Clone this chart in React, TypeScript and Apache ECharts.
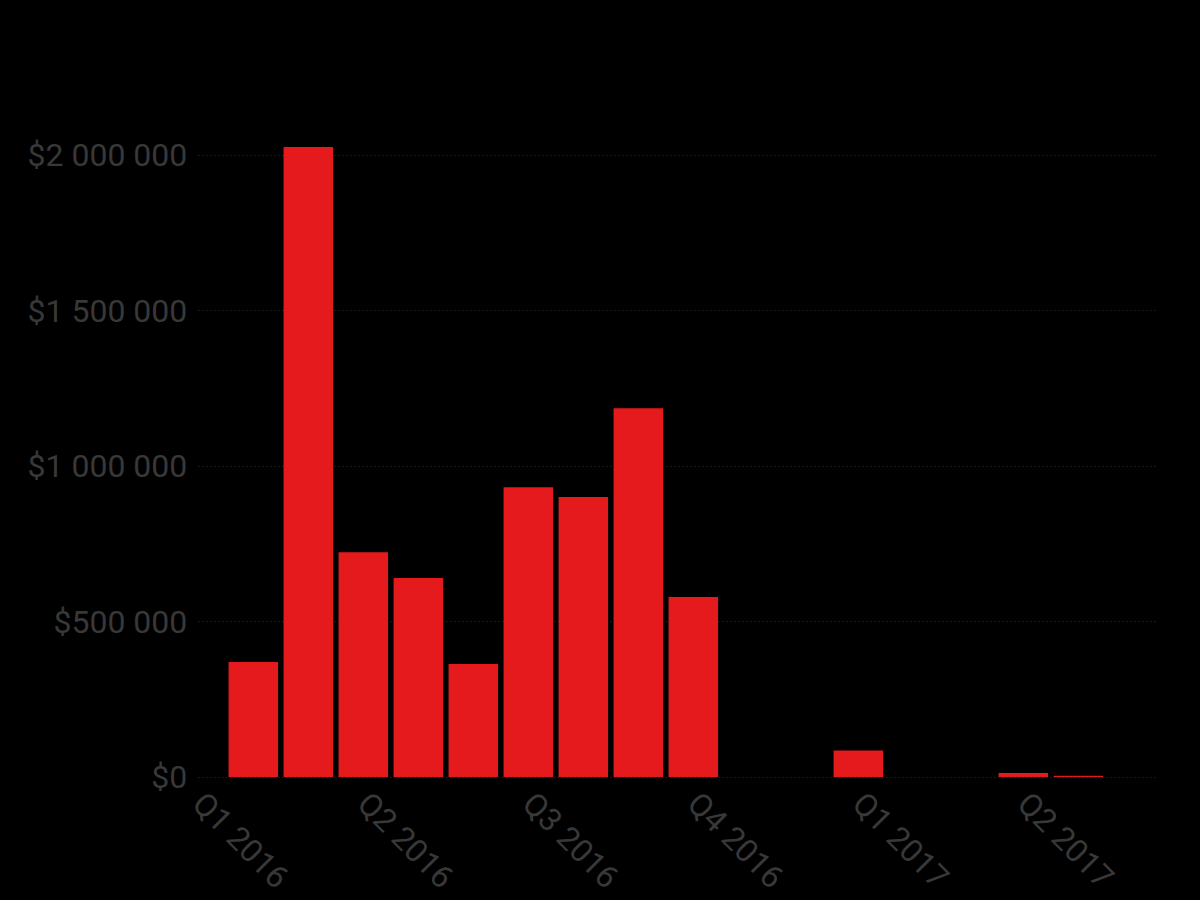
import React, { useEffect, useRef } from "react";
import * as echarts from "echarts";

// month index: 0 = Jan 2016
const monthIndex = [1, 2, 3, 4, 5, 6, 7, 8, 9, 12, 15, 16];
const amounts = [370000, 2026000, 723000, 640000, 363000, 932000, 900000, 1186000, 579000, 85000, 13000, 4000];
const quarterLabels = ["Q1 2016", "Q2 2016", "Q3 2016", "Q4 2016", "Q1 2017", "Q2 2017"];
const yTicks = [0, 500000, 1000000, 1500000, 2000000];

function fmtMoney(v: number): string {
  const s = Math.round(v).toString().replace(/\B(?=(\d{3})+(?!\d))/g, " ");
  return "$" + s;
}

export default function App() {
  const ref = useRef<HTMLDivElement>(null);
  useEffect(() => {
    if (!ref.current) return;
    const chart = echarts.init(ref.current, undefined, { renderer: "svg" });
    chart.setOption({
      animation: false,
      backgroundColor: "#000000",
      grid: { left: 198.3, right: 43, top: 155, bottom: 123, containLabel: false },
      xAxis: {
        type: "value",
        min: 0,
        max: 17.43,
        interval: 3,
        axisLine: { show: false },
        axisTick: { show: false },
        splitLine: { show: false },
        axisLabel: {
          rotate: -45,
          margin: 21,
          color: "#383838",
          fontFamily: "Roboto",
          fontSize: 32,
          showMaxLabel: false,
          formatter: (v: number) => {
            const i = Math.round(v / 3);
            return Math.abs(v - i * 3) < 1e-6 ? quarterLabels[i] ?? "" : "";
          },
        },
      },
      yAxis: {
        type: "value",
        min: yTicks[0],
        max: yTicks[yTicks.length - 1],
        interval: 500000,
        axisLine: { show: false },
        axisTick: { show: false },
        splitLine: { show: true, lineStyle: { color: "#333333", type: [1, 3], width: 1 } },
        axisLabel: {
          margin: 11,
          color: "#383838",
          fontFamily: "Roboto",
          fontSize: 32,
          formatter: (v: number) => fmtMoney(v),
        },
      },
      series: [
        {
          type: "bar",
          clip: false,
          barWidth: 49.5,
          itemStyle: { color: "#E41A1C" },
          data: monthIndex.map((m, i) => [m, amounts[i]]),
        },
      ],
    });
    return () => chart.dispose();
  }, []);
  return <div ref={ref} style={{ width: 1200, height: 900, position: "absolute", left: 0, top: 0 }} />;
}
